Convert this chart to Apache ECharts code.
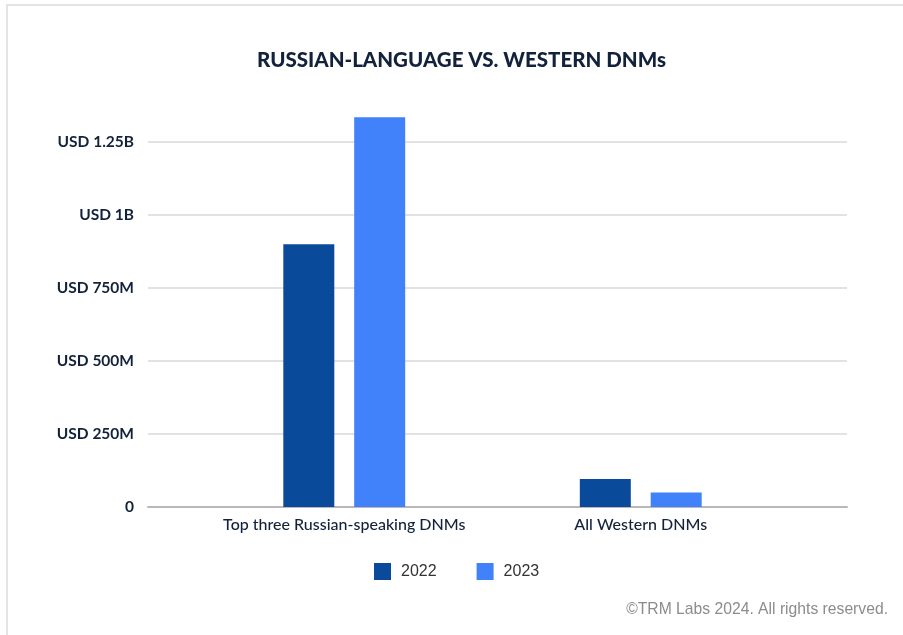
<!DOCTYPE html>
<html>
<head>
<meta charset="utf-8">
<script src="https://cdn.jsdelivr.net/npm/echarts@6/dist/echarts.min.js"></script>
<style>
  html, body { margin: 0; padding: 0; background: #fff; }
  #frame {
    position: absolute; left: 6px; top: 4px; right: -4px; bottom: -4px;
    border-left: 2px solid #e4e4e4; border-top: 2px solid #e4e4e4;
  }
  #chart { position: absolute; left: 0; top: 0; width: 903px; height: 635px; }
</style>
</head>
<body>
<div id="frame"></div>
<div id="chart"></div>
<script>
// Darknet market revenue, in millions of USD
const categories = ['Top three Russian-speaking DNMs', 'All Western DNMs'];
const years = ['2022', '2023'];
const values2022 = [900, 96];
const values2023 = [1335, 50];
const yTicks = [0, 250, 500, 750, 1000, 1250];
const yTickLabels = ['0', 'USD 250M', 'USD 500M', 'USD 750M', 'USD 1B', 'USD 1.25B'];

const dark = '#12223a';
const colors = ['#0a4a9b', '#4182fb'];

const chart = echarts.init(document.getElementById('chart'), null, { renderer: 'canvas' });

const yRange = { min: 0, max: 1250, interval: 250 };

chart.setOption({
  animation: false,
  backgroundColor: 'transparent',
  title: {
    text: 'RUSSIAN-LANGUAGE VS. WESTERN DNMs',
    left: 252,
    top: 45,
    textStyle: { fontFamily: 'Lato', fontWeight: 900, fontSize: 20.5, color: dark }
  },
  legend: {
    data: years,
    left: 369,
    top: 558,
    itemWidth: 17,
    itemHeight: 17,
    itemGap: 40,
    icon: 'rect',
    textStyle: { fontFamily: 'Liberation Sans', fontSize: 16, color: '#333', padding: [0, 0, 0, 5] }
  },
  graphic: [{
    type: 'text',
    right: 15,
    top: 602,
    style: { text: '©TRM Labs 2024. All rights reserved.', fontFamily: 'Liberation Sans', fontSize: 15.7, fill: '#8c8c8c' }
  }],
  grid: [
    { left: 196, right: 114, top: 142, bottom: 128 },
    { left: 148, right: 56, top: 142, bottom: 128 }
  ],
  xAxis: [
    {
      type: 'category', gridIndex: 0, data: categories,
      axisLine: { show: false }, axisTick: { show: false },
      axisLabel: { interval: 0, margin: 10, fontFamily: 'Lato', fontWeight: 500, fontSize: 16, color: dark }
    },
    {
      type: 'value', gridIndex: 1, min: 0, max: 1,
      axisLabel: { show: false }, axisTick: { show: false }, splitLine: { show: false },
      axisLine: { show: true, lineStyle: { color: '#b8b8b8', width: 2 } }
    }
  ],
  yAxis: [
    Object.assign({
      type: 'value', gridIndex: 0, show: false
    }, yRange),
    Object.assign({
      type: 'value', gridIndex: 1,
      axisLine: { show: false }, axisTick: { show: false },
      splitLine: { show: true, lineStyle: { color: '#e2e2e2', width: 2 } },
      axisLabel: {
        margin: 14, fontFamily: 'Lato', fontWeight: 700, fontSize: 15.5, color: dark,
        formatter: v => yTickLabels[yTicks.indexOf(v)] ?? ''
      }
    }, yRange)
  ],
  series: [
    {
      name: years[0], type: 'bar', xAxisIndex: 0, yAxisIndex: 0,
      data: values2022, barWidth: 51, barGap: '39%', clip: false,
      itemStyle: { color: colors[0] }
    },
    {
      name: years[1], type: 'bar', xAxisIndex: 0, yAxisIndex: 0,
      data: values2023, barWidth: 51, barGap: '39%', clip: false,
      itemStyle: { color: colors[1] }
    }
  ]
});
</script>
</body>
</html>
